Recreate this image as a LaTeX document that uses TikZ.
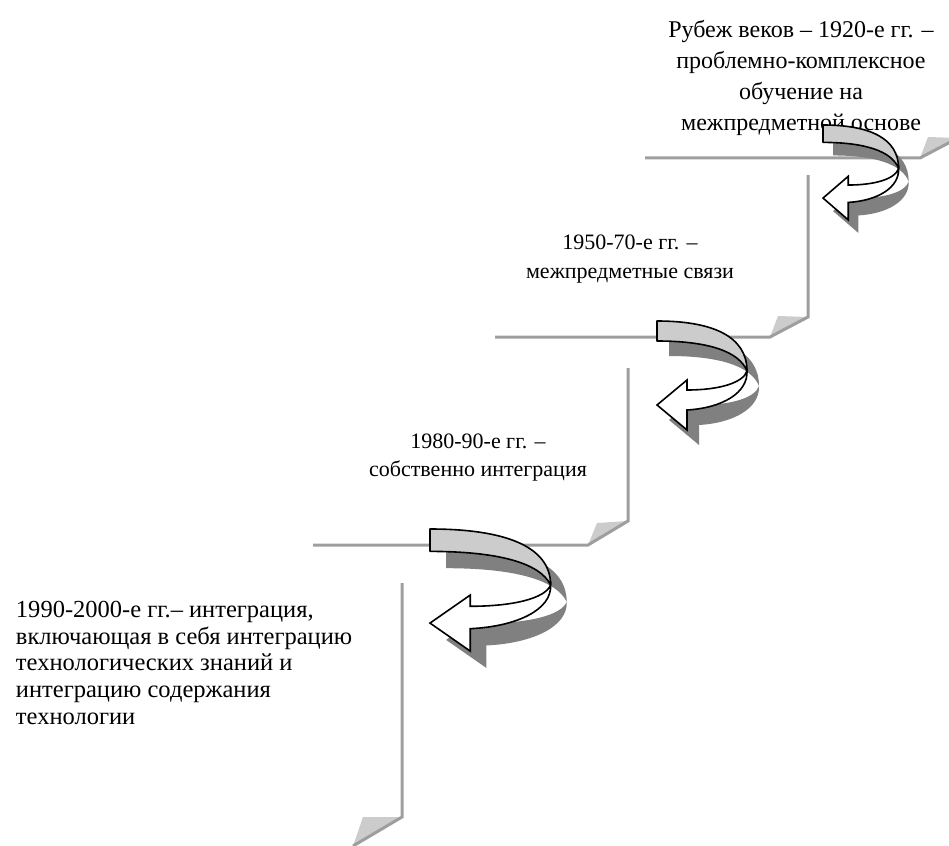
\documentclass[tikz,border=0pt]{standalone}
\usepackage{fontspec}
\setmainfont{Liberation Serif}
\definecolor{stepgray}{RGB}{158,158,158}
\definecolor{foldgray}{RGB}{204,204,204}
\definecolor{bandgray}{RGB}{204,204,204}
\definecolor{shadowgray}{RGB}{128,128,128}
\tikzset{
  stepline/.style={draw=stepgray, line width=3pt, line join=miter},
  foldtri/.style={fill=foldgray},
  arrowband/.style={fill=bandgray, draw=black, line width=1.6pt, line join=round},
  arrowback/.style={fill=white, draw=black, line width=1.6pt, line join=miter},
  arrowshadow/.style={fill=shadowgray},
  captext/.style={inner sep=0pt, outer sep=0pt},
}
\newcommand\bandpath{(0,0) .. controls (55,0) and (90,15) .. (90,50) .. controls (82,30) and (50,20) .. (0,20) -- cycle}
\newcommand\backpath{(90,50) .. controls (91,72) and (65,87) .. (30,89) -- (30,109) -- (0,84) -- (30,59) -- (30,69) .. controls (62,69) and (86,62) .. (90,50) -- cycle}
\newcommand\curvedarrow[3]{%
  \begin{scope}[shift={(#1)}, xscale=#2, yscale=#3]
    \begin{scope}[shift={(12,15)}]
      \fill[arrowshadow] \bandpath;
      \fill[arrowshadow] \backpath;
    \end{scope}
    \path[arrowback] \backpath;
    \path[arrowband] \bandpath;
  \end{scope}}
\begin{document}
\begin{tikzpicture}[x=1pt, y=-1pt]
\useasboundingbox (0,0) rectangle (949,845);
\clip (0,0) rectangle (949,845);
% steps
\fill[foldtri] (920,158) -- (928,137) -- (958,138) -- cycle;
\draw[stepline] (645,158) -- (920,158) -- (958,138);
\fill[foldtri] (770,337) -- (778,316) -- (808,317) -- cycle;
\draw[stepline] (808,175) -- (808,317) -- (770,337) -- (495,337);
\fill[foldtri] (588,545) -- (597,523) -- (628,521) -- cycle;
\draw[stepline] (628,368) -- (628,521) -- (588,545) -- (313,545);
\fill[foldtri] (353,846) -- (363,817) -- (402,817) -- cycle;
\draw[stepline] (402,583) -- (402,817) -- (353,846);
% texts
\node[captext, anchor=north, align=center, font=\fontsize{24}{31}\selectfont] (t1) at (801,20)
  {Рубеж веков – 1920-е гг. –\\проблемно-комплексное\\обучение на\\межпредметной основе};
\node[captext, anchor=north, align=center, font=\fontsize{22}{29}\selectfont] (t2) at (630,235)
  {1950-70-е гг. –\\межпредметные связи};
\node[captext, anchor=north, align=center, font=\fontsize{22}{28}\selectfont] (t3) at (478,434)
  {1980-90-е гг. –\\собственно интеграция};
\node[captext, anchor=north west, align=left, font=\fontsize{24.5}{26.75}\selectfont] (t4) at (16,601)
  {1990-2000-е гг.– интеграция,\\включающая в себя интеграцию\\технологических знаний и\\интеграцию содержания\\технологии};
% curved arrows
\curvedarrow{823,125}{0.84}{0.87}
\curvedarrow{657,321}{1}{1}
\curvedarrow{430,529}{1.34}{1.12}
\end{tikzpicture}
\end{document}
